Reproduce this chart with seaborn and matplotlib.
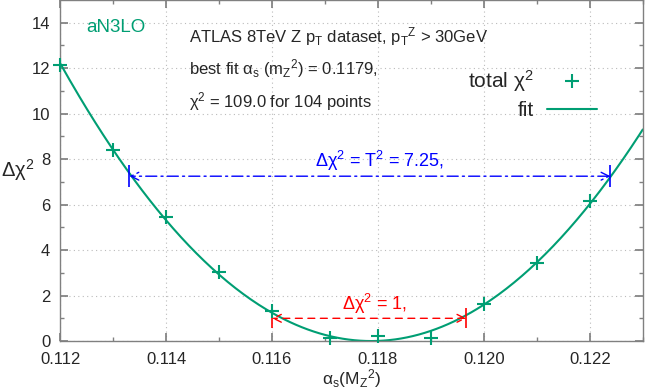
import matplotlib
matplotlib.use("Agg")
import matplotlib.pyplot as plt
from matplotlib.lines import Line2D
import numpy as np
import pandas as pd
import seaborn as sns

# alpha_s scan points and total chi2 (relative to minimum)
alphas = [0.112, 0.113, 0.114, 0.115, 0.116, 0.1171, 0.118, 0.119, 0.120, 0.121, 0.122]
dchi2 = [12.15, 8.4, 5.45, 3.05, 1.3, 0.13, 0.22, 0.13, 1.65, 3.45, 6.15]

# uncertainty bands
t2_value = 7.25
t2_range = [0.11331, 0.12239]
one_range = [0.1160, 0.11967]

green = "#009e73"

sns.set_theme(style="ticks")
plt.rcParams["font.family"] = ["Liberation Sans", "DejaVu Sans"]
plt.rcParams["mathtext.fontset"] = "custom"
plt.rcParams["mathtext.rm"] = "Liberation Sans"
plt.rcParams["mathtext.it"] = "Liberation Sans"
plt.rcParams["mathtext.default"] = "rm"

fig, ax = plt.subplots(figsize=(6.46, 3.92), dpi=100)
fig.subplots_adjust(left=0.093, right=0.995, top=1.0, bottom=0.13)

df = pd.DataFrame({"alphas": alphas, "dchi2": dchi2})
coef = np.polyfit(df["alphas"], df["dchi2"], 2)
xs = np.linspace(0.112, 0.123, 300)
fit = pd.DataFrame({"alphas": xs, "dchi2": np.polyval(coef, xs) - np.polyval(coef, xs).min()})

sns.lineplot(data=fit, x="alphas", y="dchi2", color=green, lw=1.5, ax=ax)
sns.scatterplot(data=df, x="alphas", y="dchi2", marker="+", s=100, color=green,
                linewidth=1.5, ax=ax, zorder=4, clip_on=False)

# T^2 band
ax.annotate("", xy=(t2_range[0], t2_value), xytext=(t2_range[1], t2_value),
            arrowprops=dict(arrowstyle="<->", color="blue", lw=1.0, linestyle=(0, (8, 3, 1.5, 3)),
                            shrinkA=0, shrinkB=0, mutation_scale=14))
ax.plot(t2_range, [t2_value, t2_value], ls="none", marker="|", ms=16, mew=1.2, color="blue")
ax.text(0.11804, 7.66, r"$\Delta\chi^2$ = T$^2$ = 7.25,", color="blue", fontsize=13,
        ha="center", va="baseline")

# delta chi2 = 1
ax.annotate("", xy=(one_range[0], 1), xytext=(one_range[1], 1),
            arrowprops=dict(arrowstyle="<->", color="red", lw=1.0, linestyle=(0, (5, 4)),
                            shrinkA=0, shrinkB=0, mutation_scale=14))
ax.plot(one_range, [1, 1], ls="none", marker="|", ms=15, mew=1.2, color="red")
ax.text(0.11793, 1.35, r"$\Delta\chi^2$ = 1,", color="red", fontsize=13, ha="center", va="baseline")

# labels
ax.text(0.1125, 13.58, "aN3LO", color=green, fontsize=13.5, va="baseline")
ax.text(0.11444, 13.15, r"ATLAS 8TeV Z p$_\mathrm{T}$ dataset, p$_\mathrm{T}$$^\mathrm{Z}$ > 30GeV",
        fontsize=12, va="baseline")
ax.text(0.11444, 11.71, r"best fit $\alpha_\mathrm{s}$ (m$_\mathrm{Z}$$^2$) = 0.1179,",
        fontsize=12, va="baseline")
ax.text(0.11444, 10.27, r"$\chi^2$ = 109.0 for 104 points", fontsize=12, va="baseline")

handles = [Line2D([], [], ls="none", marker="+", ms=9.5, mew=1.5, color=green),
           Line2D([], [], color=green, lw=1.5)]
ax.legend(handles, [r"total $\chi^2$", "fit"], loc="upper right", bbox_to_anchor=(0.921, 0.80),
          frameon=False, markerfirst=False, fontsize=15, handlelength=2.4, labelspacing=0.35,
          borderaxespad=0, borderpad=0, handletextpad=0.6)

ax.set_xlim(0.112, 0.123)
ax.set_ylim(0, 15)
ax.set_xticks([0.112, 0.114, 0.116, 0.118, 0.120, 0.122])
ax.set_xticklabels(["0.112", "0.114", "0.116", "0.118", "0.120", "0.122"])
ax.set_xticks(np.arange(0.113, 0.1235, 0.002), minor=True)
ax.set_yticks([0, 2, 4, 6, 8, 10, 12, 14])
ax.set_yticks([1, 3, 5, 7, 9, 11, 13], minor=True)
ax.tick_params(which="both", direction="in", top=True, right=True, labelsize=12, color="#808080")
ax.tick_params(which="major", length=6)
ax.tick_params(which="minor", length=3)
ax.tick_params(axis="x", which="major", pad=8)
ax.tick_params(axis="y", which="major", pad=7)
ax.grid(True, which="major", ls=(0, (1, 3)), color="#bbbbbb", lw=0.8)
for sp in ax.spines.values():
    sp.set_color("#808080")
    sp.set_linewidth(1.0)

ax.set_xlabel(r"$\alpha_\mathrm{s}$(M$_\mathrm{Z}$$^2$)", fontsize=12.5, labelpad=0)
ax.set_ylabel(r"$\Delta\chi^2$", fontsize=14.5, rotation=0, labelpad=10, va="center")

fig.savefig("out.png", dpi=100)
